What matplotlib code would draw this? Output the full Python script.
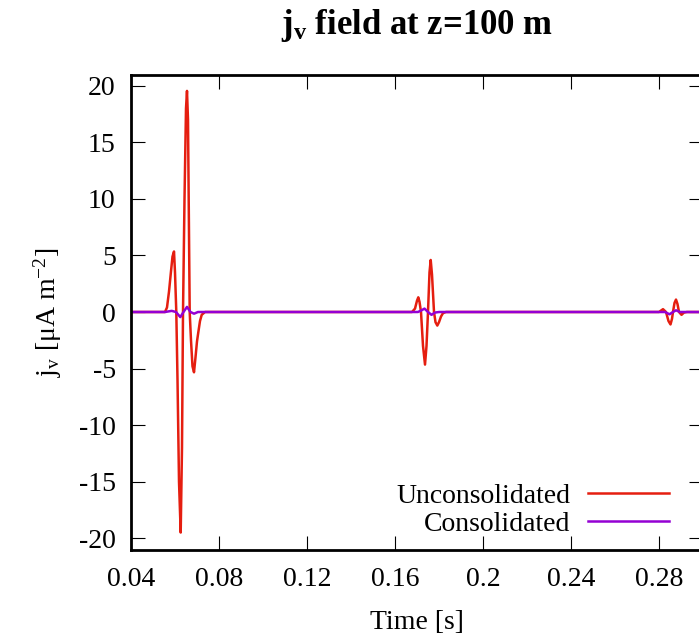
import matplotlib
matplotlib.use("Agg")
import matplotlib.pyplot as plt
from matplotlib.ticker import FuncFormatter

plt.rcParams["font.family"] = ["Liberation Serif", "DejaVu Serif"]
plt.rcParams["mathtext.fontset"] = "custom"
plt.rcParams["mathtext.rm"] = "Liberation Serif"
plt.rcParams["mathtext.it"] = "Liberation Serif:italic"
plt.rcParams["mathtext.bf"] = "Liberation Serif:bold"
plt.rcParams["axes.unicode_minus"] = False

# Unconsolidated (red)
t_uncons = [0.04, 0.05545, 0.05636, 0.05727, 0.05818, 0.05886, 0.05955, 0.0600, 0.06059,
            0.06114, 0.06182, 0.06259, 0.06318, 0.06364, 0.06432, 0.0650, 0.06545,
            0.06591, 0.06668, 0.06727, 0.06795, 0.06864, 0.06932, 0.0700, 0.07059,
            0.07136, 0.07214, 0.07364,
            0.16773, 0.16909, 0.1700, 0.17059, 0.17114, 0.17182, 0.17273, 0.17364,
            0.17432, 0.1750, 0.17568, 0.17623, 0.17682, 0.17773, 0.17841, 0.17923,
            0.1800, 0.18091, 0.18182, 0.18318,
            0.2800, 0.28182, 0.28318, 0.28432, 0.28523, 0.28591, 0.28636, 0.28705,
            0.28773, 0.28841, 0.28909, 0.29023, 0.29136, 0.29273, 0.30]
j_uncons = [0.0, 0.0, 0.4, 1.8, 3.6, 4.9, 5.35, 3.5, 0.0,
            -6.0, -15.0, -19.5, -12.0, 0.0, 10.0, 18.0, 19.55,
            17.0, 0.0, -2.5, -4.8, -5.33, -4.0, -2.6, -1.8,
            -0.8, -0.25, 0.0,
            0.0, 0.3, 1.0, 1.3, 0.9, 0.0, -3.0, -4.65,
            -3.0, 0.0, 3.5, 4.6, 3.3, 0.0, -0.9, -1.2,
            -0.9, -0.4, -0.1, 0.0,
            0.0, 0.25, 0.0, -0.8, -1.1, -0.6, 0.0, 0.8,
            1.1, 0.7, 0.0, -0.25, -0.05, 0.0, 0.0]

# Consolidated (purple)
t_cons = [0.04, 0.05545, 0.05850, 0.06045, 0.06241, 0.06386, 0.06545, 0.06705,
          0.06864, 0.07045,
          0.17045, 0.17205, 0.17341, 0.1750, 0.17659, 0.17818, 0.1800,
          0.28273, 0.28477, 0.28636, 0.28773, 0.28955, 0.30]
j_cons = [0.0, 0.0, 0.1, 0.0, -0.45, 0.0, 0.45, 0.0,
          -0.15, 0.0,
          0.0, 0.15, 0.3, 0.0, -0.25, -0.05, 0.0,
          0.0, -0.2, 0.0, 0.15, 0.0, 0.0]

x_ticks = [0.04, 0.08, 0.12, 0.16, 0.2, 0.24, 0.28]
y_ticks = [-20, -15, -10, -5, 0, 5, 10, 15, 20]

fs = 20

fig = plt.figure(figsize=(6.99, 6.39), dpi=100)
ax = fig.add_axes([131 / 699, 1 - 549.5 / 639, 572 / 699, 475 / 639])

ax.plot(t_uncons, j_uncons, color="#e51e10", lw=1.8, label="Unconsolidated")
ax.plot(t_cons, j_cons, color="#9400d3", lw=1.8, label="Consolidated")

ax.set_xlim(0.04, 0.30)
ax.set_ylim(-21, 21)
ax.set_xticks(x_ticks)
ax.set_yticks(y_ticks)
ax.xaxis.set_major_formatter(FuncFormatter(lambda v, p: "%g" % v))
ax.tick_params(direction="in", length=10, width=0.8, top=True, right=True,
               labelsize=fs)
ax.tick_params(axis="x", pad=12.5)
ax.tick_params(axis="y", pad=11)
for s in ax.spines.values():
    s.set_linewidth(2)

ax.set_xlabel("Time [s]", fontsize=fs)
ax.xaxis.set_label_coords(0.5, -0.128)
ax.set_ylabel(r"j$_\mathrm{v}$ [μA m$^{\mathrm{-2}}$]", fontsize=fs)
ax.yaxis.set_label_coords(-0.118, 0.5)
ax.set_title(r"j$_\mathbf{v}$ field at z=100 m", fontsize=25, fontweight="bold", pad=29)

ax.legend(loc="lower right", bbox_to_anchor=(669 / 699, 1 - 537 / 639),
          bbox_transform=fig.transFigure, frameon=False, markerfirst=False,
          handlelength=2.9, handletextpad=0.65, labelspacing=0.1, borderpad=0,
          borderaxespad=0, fontsize=fs)

fig.savefig("out.png", dpi=100)
